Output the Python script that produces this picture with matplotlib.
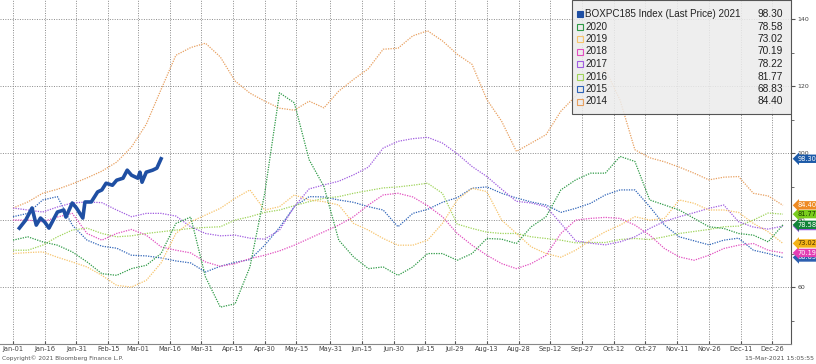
import matplotlib
matplotlib.use("Agg")
import matplotlib.pyplot as plt
from matplotlib.patches import Rectangle
from matplotlib.ticker import MultipleLocator

# day-of-year grid used for the historical years (weekly readings)
week_days = list(range(0, 365, 7))

vals_2014 = [83.6, 85.4, 88.0, 89.2, 90.8, 92.6, 94.6, 97.3, 101.8, 108.6, 119.0, 129.2, 131.5, 132.8, 128.7,
             121.5, 117.9, 115.5, 113.4, 112.8, 115.5, 113.5, 118.5, 122.0, 125.2, 131.0, 131.3, 135.0, 136.5,
             133.5, 129.5, 126.5, 116.0, 109.5, 100.5, 103.0, 105.5, 112.5, 117.0, 122.0, 125.0, 115.8, 101.0,
             98.6, 97.4, 95.8, 94.0, 92.0, 92.8, 93.0, 88.0, 87.2, 84.4]
vals_2015 = [81, 82, 86, 87, 78.5, 74, 72.2, 71.6, 69.5, 69.3, 68.7, 67.8, 67.2, 64.5, 66.2, 67.4, 68.2, 72.5,
             77.8, 84, 87, 86.9, 86, 85.3, 84, 83, 78, 82, 83.2, 85.3, 86.7, 89.5, 89.9, 88, 86.6, 85.4, 84.5,
             82.3, 83.5, 85, 87.5, 89, 89, 84, 78.5, 75, 73.8, 72.6, 74, 74.6, 71, 70, 68.83]
vals_2016 = [71, 71, 72.5, 75, 77, 77.6, 76, 75, 75.3, 76, 76.5, 77, 77.5, 77.8, 78, 80, 81, 82.3, 83, 84.3,
             85.5, 86.5, 87, 88, 88.8, 89.6, 89.9, 90.4, 91, 88, 78.8, 77.5, 76.4, 76, 76, 75, 74.5, 74, 73.2,
             73.3, 73.3, 74.2, 74.5, 74.2, 75, 76, 76.6, 77.2, 78, 78.2, 80, 82.1, 81.77]
vals_2017 = [83.6, 83, 82.4, 83.9, 85.1, 85.4, 85.2, 83, 81, 82, 82, 81.2, 78, 76, 75.3, 75.5, 74.6, 74.3, 77,
             84, 89.3, 90.5, 91.6, 93.5, 95.8, 101.5, 103.5, 104.3, 104.7, 103, 99.8, 96, 93, 89.2, 85.6, 85.1,
             84, 79, 73.8, 73.1, 72.6, 73.5, 75, 77.5, 79.6, 81, 82.2, 83.5, 84.5, 79.5, 77.9, 77.3, 78.22]
vals_2018 = [80, 80, 79.5, 80.9, 82, 76, 74, 76, 77.2, 75.5, 72, 71, 70.2, 67.5, 66.2, 67, 68.5, 69.5, 70.8,
             72.5, 74.5, 76.5, 78.5, 81, 84.5, 87.5, 88, 86.9, 84.3, 81, 76, 72.5, 69.5, 67, 65.5, 67, 69.5, 76,
             80, 80.5, 80.8, 80.5, 78.5, 75.5, 71.5, 69, 68, 69.5, 71.5, 72.5, 73, 71, 70.19]
vals_2019 = [70, 70.3, 70.5, 68.9, 67.5, 66, 63.5, 60.5, 60, 62, 67.2, 76, 79.5, 81.5, 83.5, 86.5, 89, 83, 84,
             87.5, 86, 85.5, 84.5, 79, 77, 74.5, 72.5, 72.5, 74, 79, 86, 89.5, 88.5, 80, 76, 72, 70, 68.9, 71, 74,
             76.5, 78.5, 81, 80, 80.5, 86, 85, 83, 83, 82.3, 79, 76.5, 73.02]
vals_2020 = [74, 75, 73.5, 72.5, 70.5, 67.5, 64, 63.5, 65.5, 66.5, 70, 79, 80.9, 63, 54, 55, 66, 88, 118,
             115, 98, 90, 74, 69, 65.5, 66, 63.5, 66, 70, 70, 68, 70, 74.5, 74.3, 73, 78, 81, 89, 92, 94, 94, 99,
             97.5, 86, 84.5, 83, 80.5, 78, 77.5, 76, 75.5, 73.5, 78.58]

# 2021 so far (daily-ish readings up to mid March)
days_2021 = [3, 6, 9, 11, 13, 15, 17, 21, 24, 25, 28, 30, 33, 34, 37, 40, 42, 44, 47, 49, 52, 54, 56, 59,
             60, 61, 63, 66, 68, 70]
vals_2021 = [77.6, 80.0, 83.6, 78.5, 80.6, 79.4, 77.6, 82.4, 83.0, 80.9, 85.1, 83.6, 80.6, 85.4, 85.4, 88.4,
             89.0, 91.0, 90.4, 91.9, 92.5, 94.9, 93.4, 92.5, 94.3, 91.3, 94.3, 94.9, 95.5, 98.3]

tick_days = [0, 15, 30, 45, 59, 74, 89, 104, 119, 134, 150, 165, 180, 195, 209, 224, 239, 254, 269, 284,
             299, 314, 329, 344, 359]
tick_labels = ["Jan-01", "Jan-16", "Jan-31", "Feb-15", "Mar-01", "Mar-16", "Mar-31", "Apr-15", "Apr-30",
               "May-15", "May-31", "Jun-15", "Jun-30", "Jul-15", "Jul-29", "Aug-13", "Aug-28", "Sep-12",
               "Sep-27", "Oct-12", "Oct-27", "Nov-11", "Nov-26", "Dec-11", "Dec-26"]

years = ["2020", "2019", "2018", "2017", "2016", "2015", "2014"]
year_vals = [vals_2020, vals_2019, vals_2018, vals_2017, vals_2016, vals_2015, vals_2014]
line_colors = ["#2e9a46", "#f7c46c", "#e24fc0", "#a05ce0", "#9fd45a", "#2f64b8", "#e8a060"]
tag_colors = {"2021": "#1c5aa8", "2020": "#13843a", "2019": "#f4b318", "2018": "#e43fb4",
              "2017": "#9a58dc", "2016": "#7acc1e", "2015": "#2d5fb0", "2014": "#ee8a22"}
tag_text = {"2019": "#4a3000", "2016": "#1b3d00"}

fig = plt.figure(figsize=(8.16, 3.64), dpi=100)
ax = fig.add_axes([0, 20 / 364, 791 / 816, 344 / 364])
ax.set_xlim(-6.15, 367.8)
ax.set_ylim(43, 145.7)

# older years first so the recent ones sit on top
for yr, vals, col in reversed(list(zip(years, year_vals, line_colors))):
    ax.plot(week_days, vals, color=col, lw=0.9, ls=(0, (1, 1)), zorder=2)
ax.plot(days_2021, vals_2021, color="#1f4fa3", lw=2.6, solid_joinstyle="round", zorder=3)

# axes styling
ax.set_xticks(tick_days)
ax.set_xticklabels(tick_labels, fontsize=4.8, color="#444")
ax.tick_params(axis="x", length=2, direction="in", pad=1.2, color="#555")
ax.yaxis.tick_right()
ax.set_yticks([60, 80, 100, 120, 140])
ax.yaxis.set_minor_locator(MultipleLocator(10))
ax.tick_params(axis="y", which="major", labelsize=4.5, labelcolor="#444", length=3, pad=1.5, color="#555")
ax.tick_params(axis="y", which="minor", length=2, color="#555")
ax.grid(which="major", color="#8a8a8a", ls=(0, (1, 1.5)), lw=0.7)
ax.spines["left"].set_visible(False)
ax.spines["top"].set_visible(False)
ax.spines["right"].set_color("#555")
ax.spines["bottom"].set_color("#888")

# last value tags on the right axis
last_vals = dict(zip(years, [v[-1] for v in year_vals]))
last_vals["2021"] = vals_2021[-1]
for yr in ["2017", "2020", "2016", "2014", "2015", "2018", "2019", "2021"]:
    v = last_vals[yr]
    ax.annotate(f"{v:.2f}", xy=(1, v), xycoords=("axes fraction", "data"), xytext=(4.5, 0),
                textcoords="offset points", ha="left", va="center", fontsize=4.8,
                color=tag_text.get(yr, "white"), annotation_clip=False, zorder=8,
                bbox=dict(boxstyle="larrow,pad=0.18", fc=tag_colors[yr], ec="none"))

# legend box drawn by hand so the values line up on the right
x0 = 572 / 791
y0 = 1 - 114 / 344
ax.add_patch(Rectangle((x0, y0), 1 - x0, 114 / 344, transform=ax.transAxes,
                       fc="#ececec", ec="none", alpha=0.85, zorder=5))
ax.add_patch(Rectangle((x0, y0), 1 - x0, 114 / 344, transform=ax.transAxes,
                       fill=False, ec="#555", lw=0.8, zorder=6))
row_px = [14, 26.5, 39, 51.5, 64, 76.5, 89, 101.5]
labels = ["BOXPC185 Index (Last Price) 2021"] + years
values = [vals_2021[-1]] + [v[-1] for v in year_vals]
colors = ["#1f4fa3"] + line_colors
for i, (lab, val, col) in enumerate(zip(labels, values, colors)):
    y = 1 - row_px[i] / 344
    ax.plot([580 / 791], [y], marker="s", ms=4.5, transform=ax.transAxes, clip_on=False, zorder=7,
            mfc=col if i == 0 else "none", mec=col, mew=0.8, ls="none")
    ax.text(585 / 791, y, lab, transform=ax.transAxes, fontsize=7.1, family="Liberation Sans",
            color="#222", va="center", ha="left", zorder=7)
    ax.text(783 / 791, y, f"{val:.2f}", transform=ax.transAxes, fontsize=7.3,
            family="Liberation Sans", color="#222", va="center", ha="right", zorder=7)

fig.text(0.003, 1 - 358 / 364, "Copyright\u00a9 2021 Bloomberg Finance L.P.", fontsize=4.2,
         color="#555", va="center")
fig.text(0.997, 1 - 358 / 364, "15-Mar-2021 15:05:55", fontsize=4.5, color="#555",
         va="center", ha="right")

fig.savefig("out.png", dpi=100)
